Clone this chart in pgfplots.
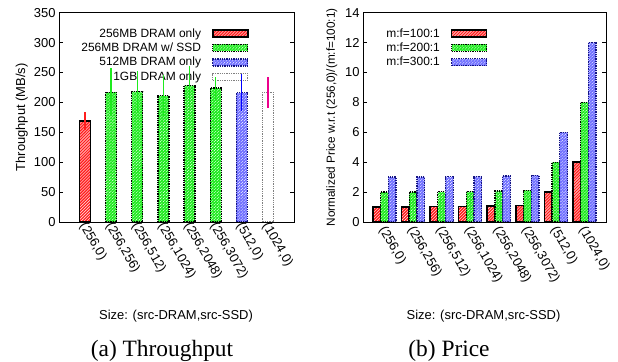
\documentclass[border=0pt]{standalone}
\usepackage{pgfplots}
\pgfplotsset{compat=1.18}
\usetikzlibrary{patterns}
\usepackage{fontspec}
\setmainfont{Liberation Sans}
\newfontfamily\capfont{Liberation Serif}
\definecolor{gpred}{RGB}{255,30,30}
\definecolor{gpgreen}{RGB}{30,235,30}
\definecolor{gpblue}{RGB}{110,110,255}
\definecolor{gpdblue}{RGB}{20,20,130}
\pgfplotsset{
  barleg/.style={legend image code/.code={\path (0bp,0bp); \draw[##1,/tikz/.cd,yshift=0pt] (9bp,-3.5bp) rectangle (44bp,3.5bp);}},
  redbar/.style={draw=black, solid, line width=1.5bp, fill=gpred, postaction={pattern=north east lines, pattern color=white}},
  greenbar/.style={draw=black, densely dotted, line width=1.3bp, fill=gpgreen, postaction={pattern=north east lines, pattern color=white}},
  bluebar/.style={draw=gpdblue, densely dotted, line width=1.3bp, fill=gpblue, postaction={pattern=north east lines, pattern color=white}},
  whitebar/.style={draw=gray, densely dotted, line width=1.3bp, fill=white},
  common/.style={
    scale only axis, anchor=south west,
    height=209.3bp, axis line style={line width=0.9bp},
    tick align=inside, major tick length=4bp, ytick pos=both,
    major x tick style={draw=none},
    tick style={line width=0.8bp, black},
    /pgf/number format/assume math mode=true,
    y tick label style={font=\fontsize{13}{14}\selectfont},
    x tick label style={font=\fontsize{13}{14}\selectfont, rotate=-60, anchor=west, yshift=-3bp, inner sep=0pt},
    xlabel style={font=\fontsize{13}{14}\selectfont},
    ylabel style={font=\fontsize{13}{14}\selectfont},
    xtick={1,...,8},
    xticklabels={{(256,0)},{(256,256)},{(256,512)},{(256,1024)},{(256,2048)},{(256,3072)},{(512,0)},{(1024,0)}},
    legend plot pos=right, legend cell align=right,
    legend style={draw=none, fill=none, font=\fontsize{12}{13}\selectfont, row sep=0.3bp, anchor=north east},
  },
  ebar/.style={draw=none, mark=none, error bars/.cd, y dir=both, y explicit, error mark=none},
  gerr/.style={ebar, error bar style={draw=gpgreen, solid, line width=1.5bp}}
}
\begin{document}
\begin{tikzpicture}
\useasboundingbox (0,0) rectangle (618bp,362bp);
\begin{axis}[common, at={(59bp,140bp)}, width=235bp,
  xmin=0, xmax=9, ymin=0, ymax=350, ytick={0,50,...,350},
  ylabel={Throughput (MB/s)},
  ylabel style={at={(axis description cs:-0.158,0.5)}, anchor=center},
  xlabel={Size: (src-DRAM,src-SSD)},
  xlabel style={at={(axis description cs:0.498,-0.452)}, anchor=center},
  legend style={at={(0.82,0.945)}}]
\addplot[ybar, bar width=11bp, bar shift=0pt, redbar, barleg] coordinates {(1,169)};
\addlegendentry{256MB DRAM only}
\addplot[ybar, bar width=11bp, bar shift=0pt, greenbar, barleg] coordinates {(2,217) (3,218) (4,211) (5,228) (6,224)};
\addlegendentry{256MB DRAM w/ SSD}
\addplot[ybar, bar width=11bp, bar shift=0pt, bluebar, barleg] coordinates {(7,216)};
\addlegendentry{512MB DRAM only}
\addplot[ybar, bar width=11bp, bar shift=0pt, whitebar, barleg] coordinates {(8,217)};
\addlegendentry{1GB DRAM only}
\end{axis}
% error bars, drawn on top in an overlaid axis with identical geometry
\begin{axis}[scale only axis, anchor=south west, at={(59bp,140bp)}, width=235bp, height=209.3bp,
  xmin=0, xmax=9, ymin=0, ymax=350, hide axis]
\addplot[ebar, error bar style={draw=gpred, solid, line width=1.5bp}]
  coordinates {(1,169) +- (0,14.5)};
\addplot[gerr] coordinates {(2,217) +- (0,40)};
\addplot[gerr] coordinates {(3,218) +- (0,35)};
\addplot[gerr] coordinates {(4,211) +- (0,34)};
\addplot[gerr] coordinates {(5,228) +- (0,33)};
\addplot[gerr] coordinates {(6,224) +- (0,19)};
\addplot[ebar, error bar style={draw=blue, solid, line width=1.3bp}]
  coordinates {(7,216) +- (0,31)};
\addplot[ebar, error bar style={draw=magenta, solid, line width=1.3bp}]
  coordinates {(8,217) +- (0,26)};
\end{axis}
\begin{axis}[common, at={(363bp,140bp)}, width=243bp,
  xmin=0.25, xmax=8.75, ymin=0, ymax=14, ytick={0,2,...,14},
  ylabel={Normalized Price w.r.t (256,0)/(m:f=100:1)},
  ylabel style={at={(axis description cs:-0.128,0.5)}, anchor=center, font=\fontsize{11.8}{13}\selectfont},
  xlabel={Size: (src-DRAM,src-SSD)},
  xlabel style={at={(axis description cs:0.496,-0.452)}, anchor=center},
  legend style={at={(0.525,0.945)}},
  ybar=0pt, bar width=7.7bp]
\addplot[redbar, barleg] coordinates {(1,1) (2,1.01) (3,1.02) (4,1.04) (5,1.08) (6,1.12) (7,2) (8,4)};
\addlegendentry{m:f=100:1}
\addplot[greenbar, barleg] coordinates {(1,2) (2,2.01) (3,2.02) (4,2.04) (5,2.08) (6,2.12) (7,4) (8,8)};
\addlegendentry{m:f=200:1}
\addplot[bluebar, barleg] coordinates {(1,3) (2,3.01) (3,3.02) (4,3.04) (5,3.08) (6,3.12) (7,6) (8,12)};
\addlegendentry{m:f=300:1}
\end{axis}
\node[anchor=base, font=\capfont\fontsize{23.5}{26}\selectfont] at (162bp,5.3bp) {(a) Throughput};
\node[anchor=base, font=\capfont\fontsize{23.5}{26}\selectfont] at (449bp,5.3bp) {(b) Price};
\end{tikzpicture}
\end{document}
